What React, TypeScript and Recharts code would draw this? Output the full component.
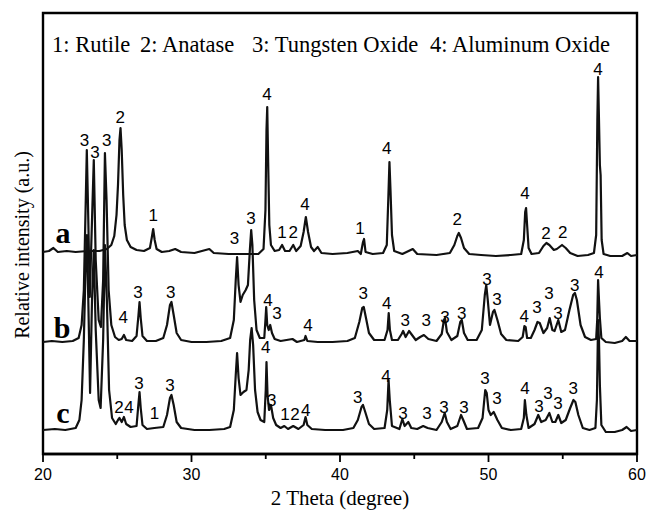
import React from 'react';
import { ComposedChart, Line, Scatter, XAxis, YAxis, ReferenceArea } from 'recharts';

// XRD patterns, [2θ (deg), intensity above the pattern's own baseline (a.u.)]
const patternA: [number, number][] = [
  [20.0, 0], [20.4, 1], [20.7, 4], [21.0, 0], [21.6, 1], [22.2, 0], [23.0, 1], [23.8, 1],
  [24.3, 3], [24.6, 7], [24.8, 16], [24.95, 37], [25.05, 67], [25.15, 112], [25.22, 124],
  [25.3, 102], [25.4, 57], [25.5, 27], [25.65, 12], [25.9, 5], [26.3, 2], [26.8, 1],
  [27.2, 4], [27.32, 14], [27.42, 23], [27.52, 12], [27.65, 3], [28.0, 0], [28.5, 1],
  [28.9, 3], [29.3, 0], [30.2, -1], [31.2, 3], [31.5, -1], [32.5, -2], [33.5, -2],
  [34.5, -2], [34.85, 3], [34.98, 42], [35.05, 122], [35.1, 145], [35.16, 92], [35.24, 27],
  [35.35, 7], [35.6, 1], [35.9, 2], [36.1, 7], [36.3, 1], [36.6, 1], [36.85, 7], [37.05, 1],
  [37.35, 6], [37.55, 20], [37.7, 35], [37.85, 20], [38.05, 5], [38.25, 1], [38.5, 5],
  [38.75, -1], [39.5, -2], [40.5, -1], [41.2, 1], [41.4, -2], [41.55, 10], [41.62, 13],
  [41.72, 0], [42.2, -2], [42.9, -1], [43.15, 7], [43.25, 52], [43.33, 90], [43.4, 62],
  [43.5, 17], [43.65, 1], [44.2, -2], [44.9, 3], [45.2, -2], [46.5, -3], [47.4, -1],
  [47.7, 7], [47.9, 16], [48.0, 19], [48.15, 14], [48.35, 4], [48.7, -2], [49.5, -3],
  [50.5, -4], [51.5, -3], [52.2, -2], [52.38, 12], [52.47, 40], [52.53, 44], [52.6, 27],
  [52.7, 4], [52.9, -2], [53.4, -1], [53.7, 6], [53.9, 9], [54.1, 7], [54.4, 2], [54.6, 3],
  [54.95, 7], [55.2, 4], [55.5, -1], [56.0, -4], [56.7, -3], [57.1, -1], [57.25, 17],
  [57.33, 132], [57.38, 175], [57.44, 132], [57.5, 87], [57.55, 77], [57.62, 12],
  [57.75, -2], [58.2, -4], [59.0, -4], [59.35, -1], [59.6, -4], [60.0, -3],
];

const patternB: [number, number][] = [
  [20.0, 0], [20.6, 1], [21.3, 0], [22.0, 1], [22.4, 4], [22.6, 17], [22.75, 52],
  [22.88, 142], [22.95, 192], [23.05, 122], [23.15, 45], [23.3, 122], [23.42, 182],
  [23.55, 82], [23.75, 22], [23.9, 15], [24.05, 62], [24.17, 189], [24.28, 142],
  [24.42, 52], [24.6, 17], [24.85, 5], [25.1, 2], [25.3, 3], [25.45, 7], [25.6, 2],
  [26.0, 1], [26.3, 6], [26.43, 27], [26.5, 40], [26.58, 24], [26.7, 6], [27.0, 1],
  [27.6, 1], [28.1, 4], [28.35, 17], [28.55, 37], [28.65, 40], [28.8, 27], [29.0, 9],
  [29.3, 2], [30.0, 0], [31.0, 0], [32.0, 1], [32.6, 4], [32.85, 22], [32.98, 62],
  [33.07, 85], [33.17, 57], [33.3, 40], [33.45, 47], [33.65, 52], [33.8, 57], [33.93, 92],
  [34.02, 112], [34.1, 97], [34.22, 42], [34.38, 12], [34.6, 4], [34.9, 4], [34.98, 22],
  [35.03, 35], [35.1, 17], [35.2, 12], [35.3, 17], [35.42, 9], [35.6, 3], [36.0, 1],
  [36.8, 3], [37.1, 0], [37.6, 2], [37.68, 6], [37.8, 1], [38.5, 0], [39.5, 0], [40.5, 1],
  [41.0, 4], [41.3, 20], [41.5, 34], [41.6, 35], [41.75, 24], [41.95, 9], [42.3, 2],
  [43.0, 2], [43.2, 12], [43.28, 29], [43.36, 12], [43.5, 2], [43.9, 2], [44.15, 8],
  [44.25, 11], [44.42, 5], [44.65, 11], [44.85, 7], [45.1, 2], [45.4, 5], [45.65, 7],
  [45.95, 3], [46.5, 1], [46.85, 8], [47.0, 22], [47.07, 24], [47.2, 10], [47.5, 2],
  [47.9, 6], [48.1, 20], [48.2, 22], [48.35, 9], [48.6, 2], [49.2, 2], [49.55, 12],
  [49.75, 47], [49.85, 57], [49.95, 42], [50.1, 17], [50.3, 30], [50.4, 32], [50.6, 22],
  [50.85, 8], [51.2, 2], [52.0, 1], [52.3, 5], [52.42, 16], [52.5, 15], [52.6, 4],
  [52.85, 4], [53.1, 12], [53.3, 20], [53.45, 19], [53.7, 9], [53.95, 14], [54.12, 24],
  [54.3, 12], [54.45, 11], [54.7, 22], [54.9, 10], [55.15, 12], [55.45, 32], [55.7, 47],
  [55.82, 49], [55.95, 42], [56.2, 17], [56.5, 5], [56.9, 2], [57.25, 3], [57.32, 22],
  [57.38, 62], [57.44, 42], [57.5, 24], [57.6, 4], [57.9, 0], [58.5, -1], [59.0, 1],
  [59.25, 5], [59.5, 1], [60.0, 1],
];

const patternC: [number, number][] = [
  [20.0, 0], [20.8, 1], [21.5, 0], [22.2, 2], [22.45, 10], [22.6, 30], [22.75, 90],
  [22.88, 170], [22.96, 195], [23.05, 130], [23.17, 37], [23.3, 130], [23.42, 180],
  [23.55, 100], [23.75, 30], [23.88, 22], [24.05, 90], [24.17, 185], [24.3, 130],
  [24.45, 40], [24.65, 12], [24.9, 6], [25.05, 10], [25.15, 12], [25.3, 8], [25.45, 13],
  [25.6, 6], [25.9, 3], [26.3, 4], [26.42, 25], [26.5, 38], [26.58, 22], [26.7, 5],
  [27.0, 1], [27.5, 2], [28.1, 3], [28.35, 15], [28.55, 32], [28.65, 35], [28.8, 25],
  [29.0, 8], [29.3, 2], [30.2, 0], [31.2, 0], [32.2, 1], [32.6, 3], [32.85, 20],
  [32.98, 55], [33.07, 77], [33.17, 52], [33.3, 35], [33.5, 38], [33.7, 40], [33.85, 60],
  [33.95, 90], [34.05, 102], [34.15, 85], [34.28, 40], [34.45, 18], [34.65, 10], [34.9, 8],
  [35.0, 40], [35.05, 68], [35.12, 35], [35.22, 20], [35.35, 25], [35.5, 12], [35.7, 5],
  [36.0, 2], [36.25, 4], [36.5, 1], [36.85, 4], [37.2, 1], [37.55, 5], [37.68, 13],
  [37.8, 5], [38.1, 1], [39.0, 0], [40.2, 0], [40.9, 2], [41.2, 10], [41.45, 23],
  [41.55, 25], [41.7, 18], [41.95, 6], [42.3, 1], [43.0, 2], [43.18, 20], [43.27, 50],
  [43.35, 30], [43.5, 4], [44.0, 1], [44.2, 11], [44.35, 4], [44.6, 8], [44.8, 2],
  [45.2, 1], [45.6, 4], [45.9, 2], [46.5, 0], [46.85, 8], [47.05, 17], [47.2, 8],
  [47.45, 1], [47.9, 4], [48.15, 15], [48.3, 10], [48.55, 1], [49.3, 2], [49.6, 12],
  [49.78, 40], [49.88, 37], [50.0, 20], [50.15, 15], [50.35, 18], [50.6, 10], [50.9, 2],
  [51.5, 0], [52.2, 1], [52.38, 12], [52.45, 30], [52.55, 15], [52.7, 2], [53.1, 6],
  [53.35, 15], [53.55, 8], [53.85, 10], [54.1, 17], [54.3, 8], [54.5, 8], [54.7, 15],
  [54.9, 7], [55.2, 10], [55.5, 22], [55.72, 30], [55.85, 28], [56.05, 15], [56.35, 2],
  [56.8, 0], [57.2, 2], [57.3, 30], [57.38, 110], [57.44, 90], [57.5, 45], [57.6, 5],
  [57.9, -2], [58.5, -2], [59.0, 0], [59.3, 3], [59.6, -1], [60.0, 0],
];

// vertical stacking of the three patterns
const offsets = { a: 202, b: 112, c: 24 };

// phase markers: [text, 2θ, height on the intensity axis]
const peakLabels: [string, number, number][] = [
  // a
  ['3', 22.8, 314], ['3', 23.5, 302], ['3', 24.3, 314], ['2', 25.2, 337], ['1', 27.43, 239],
  ['3', 32.9, 216], ['3', 34.0, 236], ['4', 35.08, 360], ['1', 36.1, 222], ['2', 36.85, 222],
  ['4', 37.65, 250], ['1', 41.35, 226], ['4', 43.15, 306], ['2', 47.9, 235], ['4', 52.46, 261],
  ['2', 53.87, 221], ['2', 55.0, 222], ['4', 57.38, 385],
  // b
  ['4', 25.4, 137], ['3', 26.4, 162], ['3', 28.6, 162], ['4', 35.15, 154], ['3', 35.75, 141],
  ['4', 37.85, 129], ['3', 41.57, 161], ['4', 43.15, 151], ['3', 44.4, 134], ['3', 45.8, 134],
  ['3', 47.07, 137], ['3', 48.2, 141], ['3', 49.9, 175], ['3', 50.57, 155], ['4', 52.4, 138],
  ['3', 53.27, 147], ['3', 54.07, 161], ['3', 54.68, 141], ['3', 55.8, 169], ['4', 57.44, 182],
  // c
  ['2', 25.12, 47], ['4', 25.79, 47], ['3', 26.46, 71], ['1', 27.5, 41], ['3', 28.55, 69],
  ['4', 35.0, 107], ['3', 35.4, 54], ['1', 36.3, 40], ['2', 36.97, 40], ['4', 37.7, 44],
  ['3', 41.2, 57], ['4', 43.1, 78], ['3', 44.24, 41], ['3', 45.86, 41], ['3', 47.0, 47],
  ['3', 48.35, 47], ['3', 49.76, 76], ['3', 50.57, 56], ['4', 52.46, 66], ['3', 53.4, 48],
  ['3', 54.0, 61], ['3', 54.68, 51], ['3', 55.7, 66],
];

const xTicks = [20, 25, 30, 35, 40, 45, 50, 55, 60];

const legendItems = ['1: Rutile', '2: Anatase', '3: Tungsten Oxide', '4: Aluminum Oxide'];
const legendX = [52, 140, 252, 430];

const SERIF = '"Liberation Serif", "Times New Roman", serif';
const SANS = '"Liberation Sans", Arial, sans-serif';

const toSeries = (p: [number, number][], off: number) => p.map(([x, y]) => ({ x, y: y + off }));

const dataA = toSeries(patternA, offsets.a);
const dataB = toSeries(patternB, offsets.b);
const dataC = toSeries(patternC, offsets.c);
const labelData = peakLabels.map(([t, x, y]) => ({ t, x, y }));

function AxisTick(props: any) {
  const { x, y, payload } = props;
  const major = payload.value % 10 === 0;
  return (
    <g>
      <line x1={x} x2={x} y1={y} y2={y + (major ? 8 : 5)} stroke="#000" strokeWidth={1.8} />
      {major && (
        <text x={x} y={y + 26} textAnchor="middle" fontFamily={SANS} fontSize={16} fill="#000">
          {payload.value}
        </text>
      )}
    </g>
  );
}

function PeakLabel(props: any) {
  const { cx, cy, payload } = props;
  return (
    <text x={cx} y={cy} dy="0.36em" textAnchor="middle" fontFamily={SANS} fontSize={17} fill="#000">
      {payload.t}
    </text>
  );
}

const lineProps = {
  dataKey: 'y',
  type: 'linear' as const,
  stroke: '#111',
  strokeWidth: 2.2,
  strokeLinejoin: 'round' as const,
  dot: false,
  isAnimationActive: false,
};

export default function App() {
  return (
    <div style={{ position: 'absolute', left: 0, top: 0, width: 647, height: 514, background: '#fff' }}>
      <ComposedChart width={647} height={514} margin={{ top: 13, right: 10, bottom: 30, left: 43 }}>
        <XAxis
          dataKey="x"
          type="number"
          domain={[20, 60]}
          ticks={xTicks}
          interval={0}
          height={30}
          tickSize={0}
          tickMargin={0}
          tickLine={false}
          axisLine={{ stroke: '#000', strokeWidth: 2.4 }}
          tick={<AxisTick />}
          allowDataOverflow
        />
        <YAxis type="number" domain={[0, 441]} hide allowDataOverflow />
        <ReferenceArea x1={20} x2={60} y1={0} y2={441} fill="none" stroke="#000" strokeWidth={2.4} />
        <Line data={dataA} {...lineProps} />
        <Line data={dataB} {...lineProps} />
        <Line data={dataC} {...lineProps} />
        <Scatter data={labelData} dataKey="y" shape={<PeakLabel />} isAnimationActive={false} />
      </ComposedChart>
      <svg width={647} height={514} style={{ position: 'absolute', left: 0, top: 0, pointerEvents: 'none' }}>
        {legendItems.map((s, i) => (
          <text key={s} x={legendX[i]} y={52} fontFamily={SERIF} fontSize={22.5} fill="#000">
            {s}
          </text>
        ))}
        <text x={63} y={243} textAnchor="middle" fontFamily={SERIF} fontWeight="bold" fontSize={30}>a</text>
        <text x={62} y={338} textAnchor="middle" fontFamily={SERIF} fontWeight="bold" fontSize={30}>b</text>
        <text x={63} y={423} textAnchor="middle" fontFamily={SERIF} fontWeight="bold" fontSize={30}>c</text>
        <text x={340} y={505} textAnchor="middle" fontFamily={SERIF} fontSize={21}>2 Theta (degree)</text>
        <text
          x={0}
          y={0}
          transform="translate(29,245) rotate(-90)"
          textAnchor="middle"
          fontFamily={SERIF}
          fontSize={20}
        >
          Relative intensity (a.u.)
        </text>
      </svg>
    </div>
  );
}
